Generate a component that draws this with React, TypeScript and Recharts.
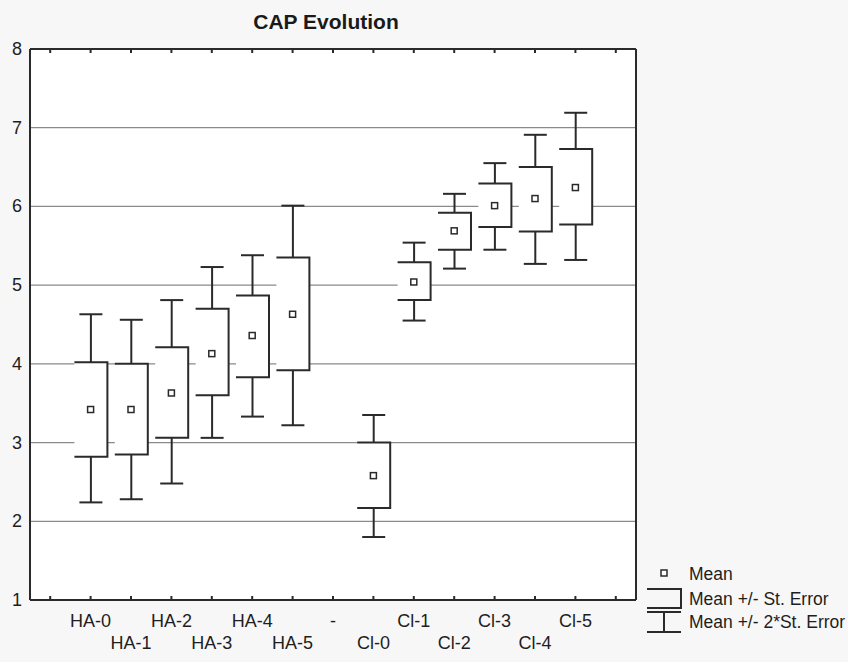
import React from 'react';
import { ComposedChart, Bar, Scatter, XAxis, YAxis, CartesianGrid } from 'recharts';

const categories = ['', 'HA-0', 'HA-1', 'HA-2', 'HA-3', 'HA-4', 'HA-5', '-', 'Cl-0', 'Cl-1', 'Cl-2', 'Cl-3', 'Cl-4', 'Cl-5', ''];
const means = [null, 3.42, 3.42, 3.63, 4.13, 4.36, 4.63, null, 2.58, 5.04, 5.69, 6.01, 6.1, 6.24, null];
const seLow = [null, 2.82, 2.85, 3.06, 3.6, 3.83, 3.92, null, 2.17, 4.81, 5.45, 5.74, 5.68, 5.77, null];
const seHigh = [null, 4.02, 4.0, 4.21, 4.7, 4.87, 5.35, null, 3.0, 5.29, 5.92, 6.29, 6.5, 6.73, null];
const se2Low = [null, 2.24, 2.28, 2.48, 3.06, 3.33, 3.22, null, 1.8, 4.55, 5.21, 5.45, 5.27, 5.32, null];
const se2High = [null, 4.63, 4.56, 4.81, 5.23, 5.38, 6.01, null, 3.35, 5.54, 6.16, 6.55, 6.91, 7.19, null];
const yTicks = [1, 2, 3, 4, 5, 6, 7, 8];
const legendLabels = ['Mean', 'Mean +/- St. Error', 'Mean +/- 2*St. Error'];

const data = categories.map((name, i) => ({
  name,
  mean: means[i],
  box: means[i] == null ? null : [seLow[i], seHigh[i]],
  whisk: means[i] == null ? null : [se2Low[i], se2High[i]],
}));

const FONT = '"Liberation Sans", Arial, sans-serif';
const INK = '#2a2a2a';

const BoxShape = (props: any) => {
  const { x, y, width, height, payload } = props;
  if (!payload || payload.box == null || !isFinite(y) || !isFinite(height)) return <g />;
  return (
    <g>
      <rect x={x} y={y} width={width} height={height} fill="#ffffff" stroke="none" />
      <path d={`M${x},${y} H${x + width} V${y + height} H${x}`} fill="none" stroke={INK} strokeWidth={2} />
    </g>
  );
};

const WhiskerShape = (props: any) => {
  const { x, y, width, height, payload } = props;
  if (!payload || payload.whisk == null || !isFinite(y) || !isFinite(height)) return <g />;
  const cx = x + width / 2;
  return (
    <g stroke={INK} strokeWidth={2} fill="none">
      <line x1={cx} y1={y} x2={cx} y2={y + height} />
      <line x1={x} y1={y} x2={x + width} y2={y} />
      <line x1={x} y1={y + height} x2={x + width} y2={y + height} />
    </g>
  );
};

const MeanShape = (props: any) => {
  const { cx, cy, payload } = props;
  if (!payload || payload.mean == null || !isFinite(cy)) return <g />;
  return <rect x={cx - 3} y={cy - 3} width={6} height={6} fill="#fff" stroke={INK} strokeWidth={1.5} />;
};

const BottomTick = (props: any) => {
  const { x, y, payload, index } = props;
  const row = index % 2 === 1 ? 0 : 1;
  return (
    <g>
      <line x1={x} y1={y - 4} x2={x} y2={y} stroke={INK} strokeWidth={2} />
      <text x={x} y={y + 27 + row * 22} textAnchor="middle" fontSize={18} fontFamily={FONT} fill="#1e1e1e">
        {payload.value}
      </text>
    </g>
  );
};

const TopTick = (props: any) => {
  const { x, y } = props;
  return <line x1={x} y1={y} x2={x} y2={y + 4} stroke={INK} strokeWidth={2} />;
};

const LeftTick = (props: any) => {
  const { x, y, payload } = props;
  return (
    <text x={x - 8} y={y + 6} textAnchor="end" fontSize={18} fontFamily={FONT} fill="#1e1e1e">
      {payload.value}
    </text>
  );
};

const RightTick = (props: any) => {
  const { x, y } = props;
  return <line x1={x - 4} y1={y} x2={x} y2={y} stroke={INK} strokeWidth={2} />;
};

const LegendBlock = () => (
  <svg width={208} height={80} style={{ display: 'block', position: 'absolute', left: 640, top: 560 }}>
    <rect x={21} y={10} width={6} height={6} fill="#fff" stroke={INK} strokeWidth={1.5} />
    <path d="M7,29 H41 V48 H7" fill="none" stroke={INK} strokeWidth={2} />
    <g stroke={INK} strokeWidth={2}>
      <line x1={7} y1={52} x2={41} y2={52} />
      <line x1={24} y1={52} x2={24} y2={72} />
      <line x1={7} y1={72} x2={41} y2={72} />
    </g>
    {legendLabels.map((t, i) => (
      <text key={t} x={49} y={[20, 45, 68][i]} fontSize={17.5} fontFamily={FONT} fill="#1e1e1e">
        {t}
      </text>
    ))}
  </svg>
);

export default function App() {
  return (
    <div style={{ position: 'absolute', left: 0, top: 0, width: 848, height: 662, background: '#f7f7f7', overflow: 'hidden' }}>
      <div
        style={{
          position: 'absolute',
          left: 226,
          top: 8,
          width: 200,
          textAlign: 'center',
          fontFamily: FONT,
          fontWeight: 'bold',
          fontSize: 21,
          color: '#1a1a1a',
          lineHeight: '28px',
        }}
      >
        CAP Evolution
      </div>
      <ComposedChart width={848} height={662} data={data} margin={{ top: 39, right: 202, bottom: 0, left: 0 }}>
        <CartesianGrid vertical={false} stroke="#8a8a8a" strokeWidth={1.2} fill="#ffffff" />
        <XAxis
          xAxisId={0}
          dataKey="name"
          type="category"
          height={62}
          tickSize={0}
          tickMargin={0}
          interval={0}
          tick={<BottomTick />}
          tickLine={false}
          axisLine={{ stroke: INK, strokeWidth: 2 }}
        />
        <XAxis
          xAxisId="top"
          orientation="top"
          dataKey="name"
          type="category"
          height={10}
          tickSize={0}
          tickMargin={0}
          interval={0}
          tick={<TopTick />}
          tickLine={false}
          axisLine={{ stroke: INK, strokeWidth: 2 }}
        />
        <XAxis xAxisId="w" dataKey="name" type="category" hide />
        <XAxis xAxisId="b" dataKey="name" type="category" hide />
        <YAxis
          yAxisId={0}
          type="number"
          domain={[1, 8]}
          ticks={yTicks}
          width={30}
          tickSize={0}
          tickMargin={0}
          tick={<LeftTick />}
          tickLine={false}
          axisLine={{ stroke: INK, strokeWidth: 2 }}
        />
        <YAxis
          yAxisId="r"
          orientation="right"
          type="number"
          domain={[1, 8]}
          ticks={yTicks}
          width={10}
          tickSize={0}
          tickMargin={0}
          tick={<RightTick />}
          tickLine={false}
          axisLine={{ stroke: INK, strokeWidth: 2 }}
        />
        <Bar xAxisId="w" yAxisId={0} dataKey="whisk" barSize={23} shape={<WhiskerShape />} isAnimationActive={false} legendType="none" />
        <Bar xAxisId="b" yAxisId={0} dataKey="box" barSize={33} shape={<BoxShape />} isAnimationActive={false} legendType="none" />
        <Scatter xAxisId={0} yAxisId={0} dataKey="mean" shape={<MeanShape />} isAnimationActive={false} />
      </ComposedChart>
      <LegendBlock />
    </div>
  );
}
